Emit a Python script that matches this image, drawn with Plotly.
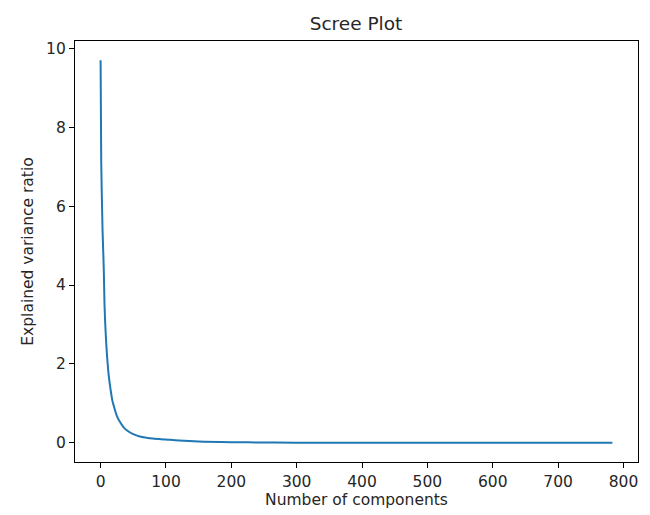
import plotly.graph_objects as go

components = [0, 1, 2, 3, 4, 5, 6, 7, 8, 9, 10, 12, 14, 16, 18, 20, 25, 30, 35, 40,
              50, 60, 70, 80, 100, 120, 150, 200, 250, 300, 400, 500, 600, 700, 783]
variance_ratio = [9.70, 7.10, 6.17, 5.39, 4.87, 4.31, 3.50, 3.05, 2.72, 2.42, 2.18, 1.78,
                  1.50, 1.27, 1.07, 0.95, 0.68, 0.52, 0.40, 0.32, 0.22, 0.16, 0.13, 0.11,
                  0.085, 0.06, 0.035, 0.018, 0.010, 0.006, 0.003, 0.0015, 0.0005, 0.0001, 0.0]

x_ticks = [0, 100, 200, 300, 400, 500, 600, 700, 800]
y_ticks = [0, 2, 4, 6, 8, 10]

fig = go.Figure(go.Scatter(
    x=components, y=variance_ratio, mode="lines",
    line=dict(color="#1f77b4", width=2), line_shape="spline",
))

eixo = dict(
    showline=True, linecolor="black", linewidth=1.2, mirror=True,
    ticks="outside", ticklen=5, tickcolor="black", showgrid=False, zeroline=False,
    tickfont=dict(size=15.5, color="#262626"), automargin=False,
)

# a pagina tem 8px de margem no body, por isso as margens ja descontam isso
fig.update_layout(
    width=650, height=515,
    margin=dict(l=67, r=20, t=33, b=61),
    plot_bgcolor="white", paper_bgcolor="white",
    font=dict(family="DejaVu Sans", color="#262626"),
    title=dict(text="Scree Plot", x=0.5354, xanchor="center", y=0.969, yanchor="middle",
               font=dict(size=18.5)),
    showlegend=False,
)
fig.update_xaxes(eixo, range=[-39.15, 822.15], tickvals=x_ticks,
                 title=dict(text="Number of components", font=dict(size=15.5), standoff=3))
fig.update_yaxes(eixo, range=[-0.485, 10.185], tickvals=y_ticks,
                 title=dict(text="Explained variance ratio", font=dict(size=15.5), standoff=8))

fig.write_html("out.html")
